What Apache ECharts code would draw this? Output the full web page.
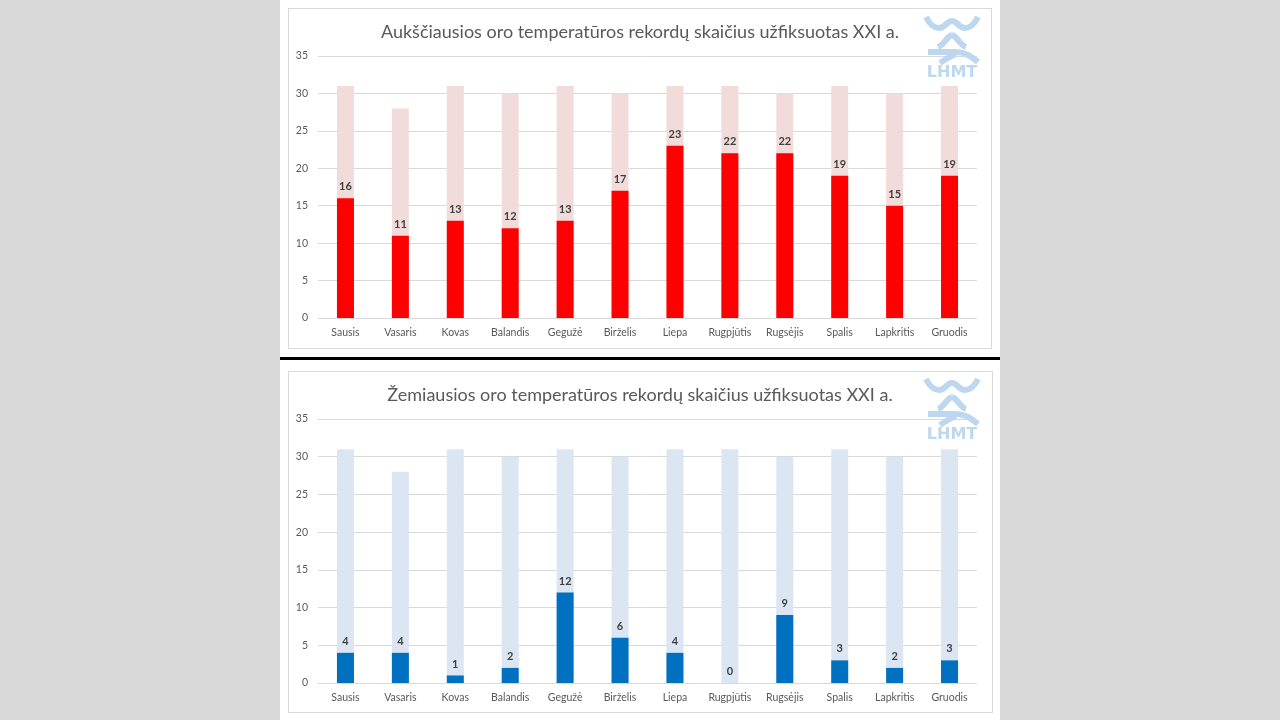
<!DOCTYPE html>
<html>
<head>
<meta charset="utf-8">
<script src="https://cdn.jsdelivr.net/npm/echarts@6/dist/echarts.min.js"></script>
<style>
html,body{margin:0;padding:0;background:#d9d9d9;}
#wrap{position:relative;width:1280px;height:720px;overflow:hidden;}
.panel{position:absolute;left:280px;top:0;width:720px;height:720px;background:#fff;}
.box{position:absolute;border:1px solid #d9d9d9;background:#fff;}
.sep{position:absolute;left:280px;top:357px;width:720px;height:3px;background:#000;}
#chart{position:absolute;left:0;top:0;width:1280px;height:720px;}
</style>
</head>
<body>
<div id="wrap">
<div class="panel"></div>
<div class="box" style="left:288px;top:8px;width:702px;height:339px;"></div>
<div class="sep"></div>
<div class="box" style="left:288px;top:371px;width:703px;height:340px;"></div>
<div id="chart"></div>
</div>
<script>
var months = ['Sausis','Vasaris','Kovas','Balandis','Gegužė','Birželis','Liepa','Rugpjūtis','Rugsėjis','Spalis','Lapkritis','Gruodis'];
var daysInMonth = [31,28,31,30,31,30,31,31,30,31,30,31];
var highRecords = [16,11,13,12,13,17,23,22,22,19,15,19];
var lowRecords = [4,4,1,2,12,6,4,0,9,3,2,3];
var yTicks = {min:0, max:35, interval:5};
var titleHigh = 'Aukščiausios oro temperatūros rekordų skaičius užfiksuotas XXI a.';
var titleLow = 'Žemiausios oro temperatūros rekordų skaičius užfiksuotas XXI a.';

var chart = echarts.init(document.getElementById('chart'), null, {renderer:'canvas'});
var FONT = 'Lato';
function xAx(i){
  return {gridIndex:i, type:'category', data:months,
    axisLine:{show:false}, axisTick:{show:false},
    axisLabel:{interval:0, color:'#595959', fontSize:10.5, fontFamily:FONT, margin:9}};
}
function yAx(i){
  return {gridIndex:i, type:'value', min:yTicks.min, max:yTicks.max, interval:yTicks.interval,
    axisLine:{show:false}, axisTick:{show:false},
    splitLine:{lineStyle:{color:'#d9d9d9', width:1}},
    axisLabel:{color:'#595959', fontSize:10.5, fontFamily:FONT, margin:10}};
}
var labelStyle = {show:true, position:'top', distance:6, color:'#404040', fontSize:11, fontWeight:'bold', fontFamily:FONT};
var LOGO_C = '#bdd7ee';
function bz(x1,y1,c1x,c1y,c2x,c2y,x2,y2){
  return {type:'bezierCurve', silent:true, z:10,
    shape:{x1:x1,y1:y1,cpx1:c1x,cpy1:c1y,cpx2:c2x,cpy2:c2y,x2:x2,y2:y2},
    style:{stroke:LOGO_C, lineWidth:6, fill:null}};
}
function logo(x, y){
  return [
    bz(x,y+2, x+3,y+8, x+7,y+13, x+13,y+13),
    bz(x+13,y+13, x+19,y+13, x+21,y+6, x+26,y+6),
    bz(x+26,y+6, x+31,y+6, x+33,y+13, x+39,y+13),
    bz(x+39,y+13, x+45,y+13, x+49,y+8, x+52,y+2),
    bz(x+12,y+32, x+18,y+30, x+21,y+21, x+26,y+20),
    bz(x+26,y+20, x+31,y+21, x+34,y+30, x+40,y+32),
    {type:'line', silent:true, z:10, shape:{x1:x+2,y1:y+37,x2:x+30,y2:y+37}, style:{stroke:LOGO_C, lineWidth:6}},
    bz(x+30,y+37, x+38,y+37, x+44,y+40, x+52,y+47),
    bz(x+14,y+48, x+20,y+44, x+25,y+41, x+30,y+39),
    {type:'text', silent:true, z:10, x:x+26, y:y+58, style:{text:'LHMT', fill:LOGO_C, font:'bold 16px "DejaVu Sans"', align:'center', verticalAlign:'middle'}}
  ];
}
var option = {
  animation:false,
  backgroundColor:'transparent',
  title:[
    {text:titleHigh, left:'center', top:18, textStyle:{color:'#595959', fontSize:18, fontWeight:'normal', fontFamily:FONT}},
    {text:titleLow, left:'center', top:381, textStyle:{color:'#595959', fontSize:18, fontWeight:'normal', fontFamily:FONT}}
  ],
  grid:[
    {left:318, right:303, top:56, height:262},
    {left:318, right:303, top:419, height:264}
  ],
  xAxis:[xAx(0), xAx(1)],
  yAxis:[yAx(0), yAx(1)],
  series:[
    {type:'bar', xAxisIndex:0, yAxisIndex:0, data:daysInMonth, barWidth:17, barGap:'-100%', itemStyle:{color:'#f2dcdb'}, silent:true, z:2},
    {type:'bar', xAxisIndex:0, yAxisIndex:0, data:highRecords, barWidth:17, barGap:'-100%', itemStyle:{color:'#ff0000'}, label:labelStyle, z:3},
    {type:'bar', xAxisIndex:1, yAxisIndex:1, data:daysInMonth, barWidth:17, barGap:'-100%', itemStyle:{color:'#dce6f2'}, silent:true, z:2},
    {type:'bar', xAxisIndex:1, yAxisIndex:1, data:lowRecords, barWidth:17, barGap:'-100%', itemStyle:{color:'#0070c0'}, label:labelStyle, z:3}
  ],
  graphic: logo(926, 15).concat(logo(926, 377))
};
chart.setOption(option);
</script>
</body>
</html>
